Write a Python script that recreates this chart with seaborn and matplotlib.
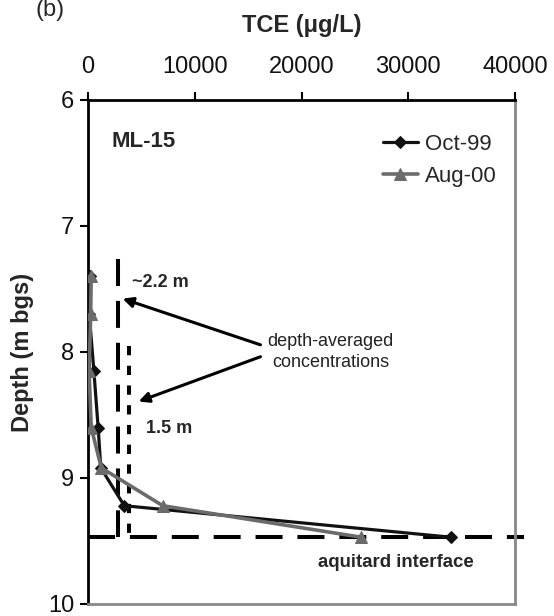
import matplotlib
matplotlib.use("Agg")
import matplotlib.pyplot as plt
import seaborn as sns
import pandas as pd

sns.set_theme(style="white")
plt.rcParams['font.family'] = ['Liberation Sans', 'DejaVu Sans']

# Data
depth_oct99 = [7.40, 7.70, 8.15, 8.60, 8.92, 9.22, 9.47]
tce_oct99 = [150, 120, 550, 950, 1200, 3400, 34000]
depth_aug00 = [7.40, 7.70, 8.15, 8.60, 8.92, 9.22, 9.47]
tce_aug00 = [300, 250, 100, 300, 1250, 7000, 25600]
series_labels = ["Oct-99", "Aug-00"]
x_ticks = [0, 10000, 20000, 30000, 40000]
y_ticks = [6, 7, 8, 9, 10]
aquitard_depth = 9.47
avg_conc_22 = 2800
avg_conc_15 = 3850
top_22 = 7.26
top_15 = 7.95

df_oct = pd.DataFrame({"TCE": tce_oct99, "Depth": depth_oct99})
df_aug = pd.DataFrame({"TCE": tce_aug00, "Depth": depth_aug00})

fig = plt.figure(figsize=(5.54, 6.16), dpi=100)
ax = fig.add_axes([88/554, 1-604/616, (515-88)/554, (604-100)/616])

sns.lineplot(data=df_oct, x="TCE", y="Depth", sort=False, estimator=None,
             color="#111111", lw=2.3, marker="D", markersize=6,
             markeredgecolor="#111111", label=series_labels[0], ax=ax, zorder=3)
sns.lineplot(data=df_aug, x="TCE", y="Depth", sort=False, estimator=None,
             color="#6b6b6b", lw=2.6, marker="^", markersize=8.5,
             markeredgecolor="#6b6b6b", label=series_labels[1], ax=ax, zorder=4)

ax.set_xlim(0, 40000)
ax.set_ylim(10, 6)
ax.set_xticks(x_ticks)
ax.set_yticks(y_ticks)
ax.xaxis.tick_top()
ax.xaxis.set_label_position("top")
ax.tick_params(axis="x", which="both", top=True, bottom=False, direction="out",
               length=6, width=1.5, color="black", labelsize=17, pad=10)
ax.tick_params(axis="y", which="both", left=True, direction="out",
               length=6, width=1.5, color="black", labelsize=17, pad=4)
for lab in ax.get_xticklabels() + ax.get_yticklabels():
    lab.set_color("#111111")

ax.set_xlabel("TCE (\u03bcg/L)", fontsize=17, fontweight="bold", labelpad=17)
ax.set_ylabel("Depth (m bgs)", fontsize=17, fontweight="bold", labelpad=10)

ax.spines["top"].set_color("black")
ax.spines["top"].set_linewidth(2.0)
ax.spines["left"].set_color("black")
ax.spines["left"].set_linewidth(2.0)
ax.spines["right"].set_color("#888888")
ax.spines["right"].set_linewidth(2.0)
ax.spines["bottom"].set_color("#888888")
ax.spines["bottom"].set_linewidth(2.0)

# Depth-averaged lines
ax.plot([avg_conc_22, avg_conc_22], [top_22, aquitard_depth], color="black",
        lw=2.9, dashes=(6.7, 3.7), zorder=2)
ax.plot([avg_conc_15, avg_conc_15], [top_15, aquitard_depth], color="black",
        lw=2.9, dashes=(2.3, 2.6), zorder=2)
ax.plot([0, 40800], [aquitard_depth, aquitard_depth], color="black",
        lw=2.9, dashes=(6.7, 3.7), clip_on=False, zorder=2)

# Annotations
ax.text(2200, 6.33, "ML-15", fontsize=16, fontweight="bold", ha="left", va="center")
ax.text(4100, 7.45, "~2.2 m", fontsize=13, fontweight="bold", ha="left", va="center")
ax.text(5400, 8.61, "1.5 m", fontsize=13, fontweight="bold", ha="left", va="center")
ax.text(22700, 8.0, "depth-averaged\nconcentrations", fontsize=13, ha="center",
        va="center", color="#222222", linespacing=1.25)
ax.text(28800, 9.67, "aquitard interface", fontsize=13.4, fontweight="bold",
        ha="center", va="center")
ax.annotate("", xy=(3000, 7.57), xytext=(16400, 7.95),
            arrowprops=dict(arrowstyle="-|>", color="black", lw=2.2,
                            mutation_scale=15))
ax.annotate("", xy=(4500, 8.40), xytext=(16400, 8.03),
            arrowprops=dict(arrowstyle="-|>", color="black", lw=2.2,
                            mutation_scale=15))

leg = ax.legend(loc="upper left", bbox_to_anchor=(0.69, 0.933), frameon=False,
                fontsize=16, handlelength=1.6, handletextpad=0.3,
                labelspacing=0.5, borderaxespad=0.0, borderpad=0.0)

fig.text(50/554, 1-10/616, "(b)", fontsize=17, ha="center", va="center")

fig.savefig("out.png", dpi=100)
